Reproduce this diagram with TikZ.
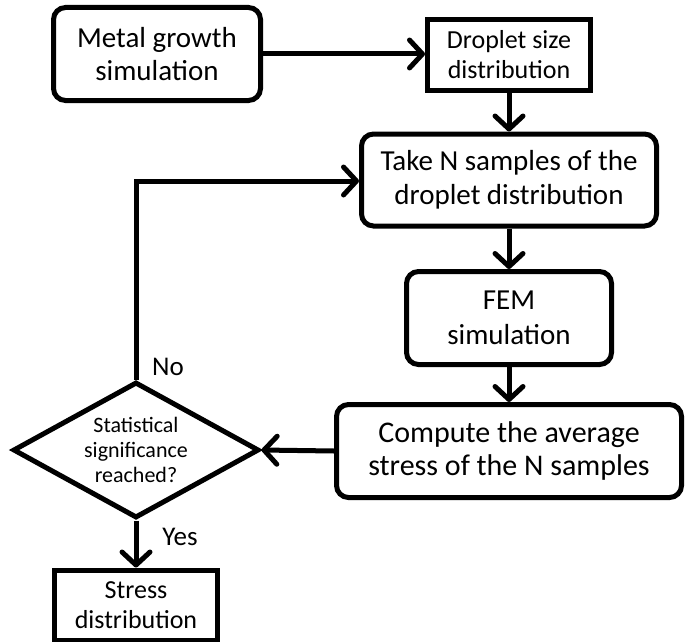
\documentclass[tikz,border=0pt]{standalone}
\usepackage{fontspec}
\setmainfont{Carlito}
\usetikzlibrary{arrows.meta,shapes.geometric}
\begin{document}
\begin{tikzpicture}[x=1pt,y=-1pt,
  box/.style={draw,line width=5pt,inner sep=0pt,align=center},
  rbox/.style={box,rounded corners=12pt},
  arr/.style={line width=5pt,-{Straight Barb[length=13pt,width=28pt,line width=5pt,round]}}]
\useasboundingbox (0,0) rectangle (693,642);
\node[rbox,minimum width=207pt,minimum height=93pt,font=\fontsize{29}{33}\selectfont] (metal) at (157,54) {Metal growth\\simulation};
\node[box,minimum width=163pt,minimum height=71pt,font=\fontsize{26}{30}\selectfont] (drop) at (509,55) {Droplet size\\distribution};
\node[rbox,minimum width=295pt,minimum height=92pt,font=\fontsize{29}{34}\selectfont] (take) at (509,180) {Take N samples of the\\droplet distribution};
\node[rbox,minimum width=205pt,minimum height=93pt,font=\fontsize{29}{35}\selectfont] (fem) at (509,318) {FEM\\simulation};
\node[rbox,minimum width=345pt,minimum height=93pt,font=\fontsize{30}{33}\selectfont] (comp) at (509,451) {Compute the average\\stress of the N samples};
\node[diamond,draw,line width=5pt,inner sep=0pt,aspect=1.78,minimum width=246pt,minimum height=136pt,align=center,font=\fontsize{22}{25}\selectfont] (dec) at (136,450) {Statistical\\significance\\reached?};
\node[box,minimum width=163pt,minimum height=70pt,font=\fontsize{26}{30}\selectfont] (stress) at (136,605) {Stress\\distribution};
\coordinate (corner) at (136,181);
\draw[arr] (metal.east) -- (metal.east -| drop.west);
\draw[arr] (drop.south) -- (take.north);
\draw[arr] (take.south) -- (fem.north);
\draw[arr] (fem.south) -- (comp.north);
\draw[arr] (comp.west) -- (dec.east);
\draw[arr,line join=miter] (dec.north) -- (corner) -- (corner -| take.west);
\draw[arr] (dec.south) -- (stress.north);
\node[font=\fontsize{27}{30}\selectfont] (no) at (168,367) {No};
\node[font=\fontsize{27}{30}\selectfont] (yes) at (180,537) {Yes};
\end{tikzpicture}
\end{document}
